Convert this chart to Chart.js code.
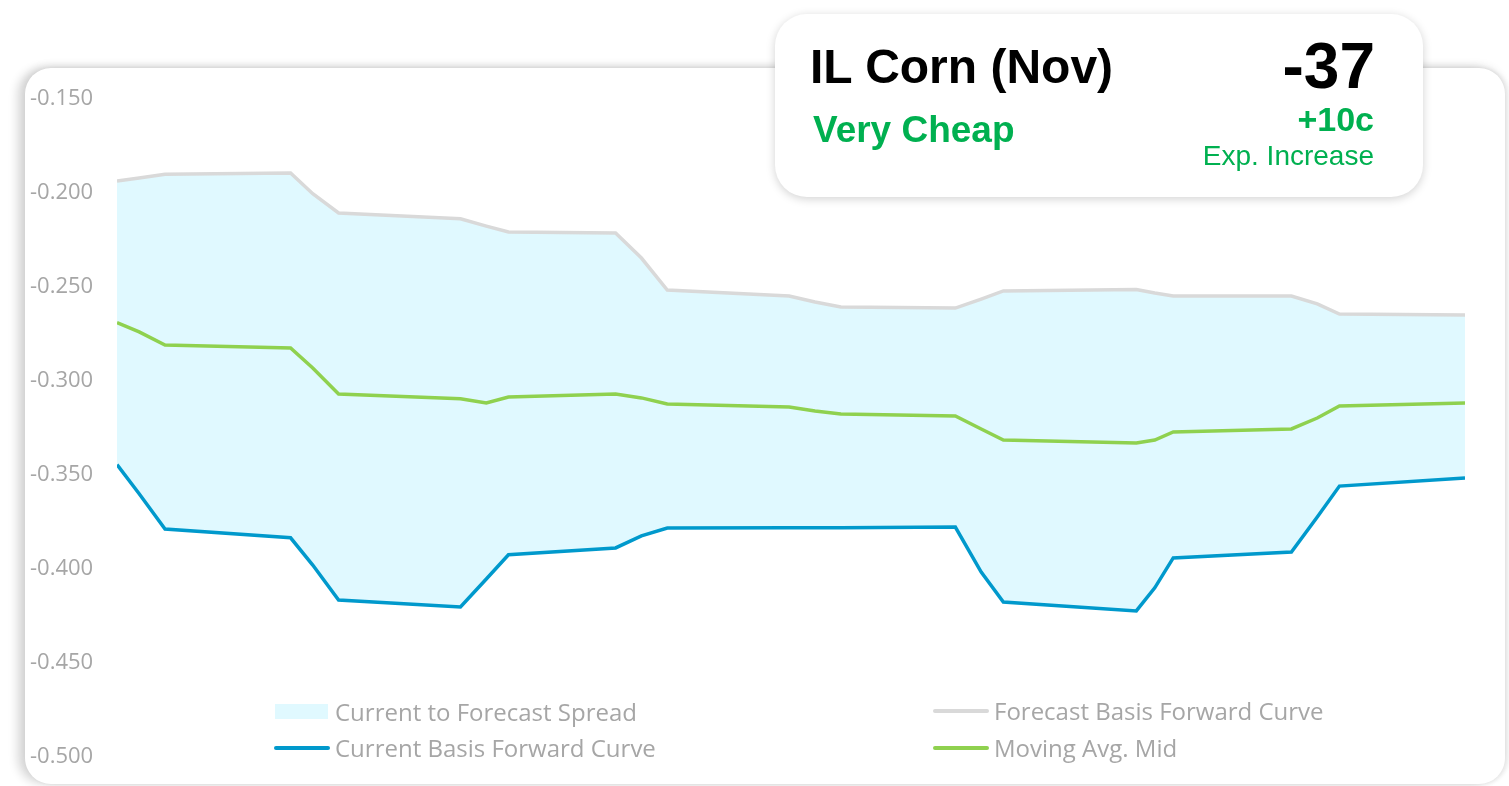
<!DOCTYPE html>
<html>
<head>
<meta charset="utf-8">
<script src="https://cdn.jsdelivr.net/npm/chart.js@4.4.1/dist/chart.umd.min.js"></script>
<style>
  html, body { margin: 0; padding: 0; background: #fff; width: 1509px; height: 786px; overflow: hidden; }
  .card {
    position: absolute; left: 25px; top: 68px; width: 1480px; height: 716px;
    background: #fff; border-radius: 26px;
    box-shadow: -8px 0 10px rgba(0,0,0,0.14), 0 -3px 8px rgba(0,0,0,0.07), 3px 0 4px rgba(0,0,0,0.08);
  }
  #wrap { position: absolute; left: 0; top: 0; width: 1509px; height: 786px; }
  .legend { position: absolute; font-family: 'Open Sans', sans-serif; font-size: 24px; color: #a6a6a6; white-space: nowrap; }
  .legend .sw { position: absolute; left: 0; }
  .legend span.t { position: absolute; top: -17px; }
  .info {
    position: absolute; left: 775px; top: 14px; width: 648px; height: 183px;
    background: #fff; border-radius: 32px;
    box-shadow: 0 2px 10px rgba(0,0,0,0.18);
    font-family: 'Liberation Sans', Arial, sans-serif;
  }
  .info div { position: absolute; white-space: nowrap; }
</style>
</head>
<body>
<div class="card"></div>
<div id="wrap"><canvas id="basis-chart"></canvas></div>

<div class="legend" style="left:275px; top:712px;"><div class="sw" style="top:-8px; width:53px; height:15px; background:#e0f9ff;"></div><span class="t" style="left:60px;">Current to Forecast Spread</span></div>
<div class="legend" style="left:274px; top:748px;"><div class="sw" style="top:-2px; width:56px; height:4px; border-radius:2px; background:#0099cc;"></div><span class="t" style="left:61px;">Current Basis Forward Curve</span></div>
<div class="legend" style="left:933px; top:711px;"><div class="sw" style="top:-2px; width:56px; height:4px; border-radius:2px; background:#d9d9d9;"></div><span class="t" style="left:61px;">Forecast Basis Forward Curve</span></div>
<div class="legend" style="left:933px; top:748px;"><div class="sw" style="top:-2px; width:56px; height:4px; border-radius:2px; background:#8fd14f;"></div><span class="t" style="left:61px;">Moving Avg. Mid</span></div>

<div class="info">
  <div style="left:35px; top:25px; font-size:48px; font-weight:bold; color:#000;">IL Corn (Nov)</div>
  <div style="right:48px; top:15px; font-size:64px; font-weight:bold; color:#000;">-37</div>
  <div style="left:38px; top:95px; font-size:37px; font-weight:bold; color:#00b050;">Very Cheap</div>
  <div style="right:49px; top:86px; font-size:34px; font-weight:bold; color:#00b050;">+10c</div>
  <div style="right:49px; top:126px; font-size:28px; color:#00b050;">Exp. Increase</div>
</div>

<script>
const Chart = window.Chart;

// days along the forward curve (shared by all series)
const days = [0, 6, 13, 47, 53, 60, 93, 100, 106, 135, 142, 149, 182, 189, 196, 227, 234, 240, 276, 281, 286, 318, 325, 331, 365];

const currentBasis = [-0.3445, -0.360, -0.3787, -0.3834, -0.3979, -0.4165, -0.4202, -0.4053, -0.3924, -0.3888, -0.3824, -0.3782,
  -0.378, -0.378, -0.378, -0.3777, -0.4016, -0.4176, -0.4223, -0.410, -0.3941, -0.391, -0.3723, -0.3559, -0.3516];

const forecastBasis = [-0.1936, -0.192, -0.190, -0.1894, -0.2004, -0.2106, -0.2137, -0.2176, -0.2207, -0.2213, -0.2346, -0.2516,
  -0.2548, -0.258, -0.2606, -0.2612, -0.2564, -0.2521, -0.2513, -0.2532, -0.2548, -0.2548, -0.259, -0.2644, -0.2649];

const movingAvgMid = [-0.269, -0.2739, -0.2809, -0.2824, -0.2931, -0.3069, -0.3094, -0.3117, -0.3085, -0.3069, -0.309, -0.3122,
  -0.3138, -0.316, -0.3176, -0.3186, -0.3255, -0.3314, -0.333, -0.3314, -0.3271, -0.3255, -0.3197, -0.3133, -0.3117];

const yTicks = [-0.5, -0.45, -0.4, -0.35, -0.3, -0.25, -0.2, -0.15];

function toPoints(values) {
    return values.map((v, i) => ({ x: days[i], y: v }));
}

const canvas = document.getElementById('basis-chart');

const basisChart = new Chart(canvas, {
    type: 'line',
    data: {
        datasets: [
            {
                label: 'Current Basis Forward Curve',
                data: toPoints(currentBasis),
                borderColor: '#0099cc',
                borderWidth: 3.5,
                pointRadius: 0,
                fill: false
            },
            {
                label: 'Forecast Basis Forward Curve',
                data: toPoints(forecastBasis),
                borderColor: '#d9d9d9',
                borderWidth: 3.5,
                pointRadius: 0,
                backgroundColor: '#e0f9ff',
                fill: { target: 0 }
            },
            {
                label: 'Moving Avg. Mid',
                data: toPoints(movingAvgMid),
                borderColor: '#8fd14f',
                borderWidth: 3.5,
                pointRadius: 0,
                fill: false
            }
        ]
    },
    options: {
        responsive: true,
        maintainAspectRatio: false,
        animation: false,
        layout: {
            padding: { left: 30, right: 44, top: 99, bottom: 29 }
        },
        plugins: {
            legend: { display: false },
            tooltip: { enabled: false },
            filler: { drawTime: 'beforeDatasetsDraw' }
        },
        scales: {
            x: {
                type: 'linear',
                min: days[0],
                max: days[days.length - 1],
                display: false
            },
            y: {
                min: yTicks[0],
                max: yTicks[yTicks.length - 1],
                afterBuildTicks: function(scale) {
                    scale.ticks = yTicks.map(v => ({ value: v }));
                },
                afterFit: function(scale) {
                    scale.width = 87;
                },
                grid: { display: false },
                border: { display: false },
                ticks: {
                    crossAlign: 'far',
                    color: '#a6a6a6',
                    font: { family: 'Open Sans', size: 22 },
                    callback: function(value) {
                        return value.toFixed(3);
                    }
                }
            }
        }
    }
});
</script>
</body>
</html>
